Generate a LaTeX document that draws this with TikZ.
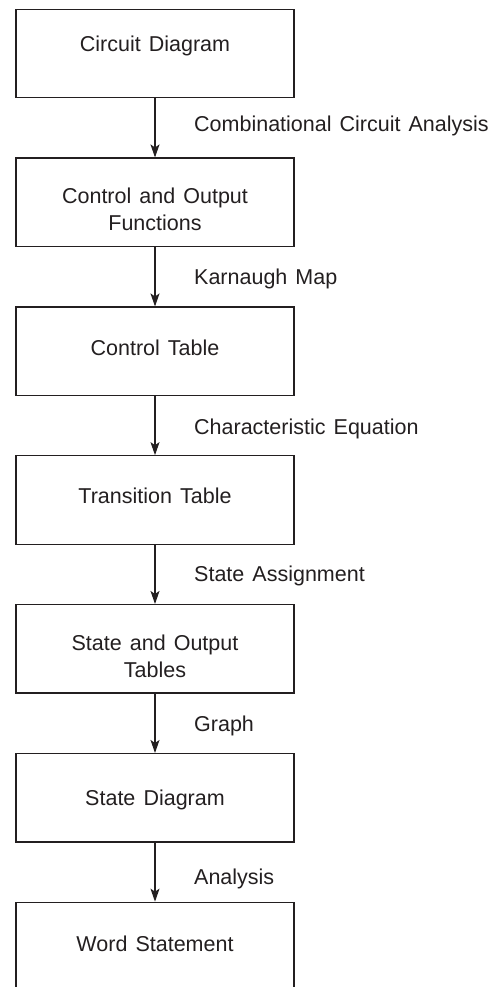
\documentclass[tikz,border=0pt]{standalone}
\usepackage{fontspec}
\setmainfont[WordSpace=1.35]{Liberation Sans}
\usetikzlibrary{arrows.meta}
\definecolor{ink}{HTML}{231F20}
\begin{document}
\begin{tikzpicture}[x=1pt,y=-1pt,
  stagebox/.style={draw=ink,line width=1.2pt,minimum width=278pt,minimum height=88.5pt,inner sep=0pt},
  boxtext/.style={text=ink,font=\fontsize{21.5}{26.8}\selectfont,align=center,inner sep=0pt},
  steptext/.style={text=ink,font=\fontsize{21.5}{26.8}\selectfont,anchor=west,inner sep=0pt,text height=15pt,text depth=0pt},
  flow/.style={draw=ink,line width=1.1pt,-{Stealth[length=13pt,width=9pt,inset=3pt]}}]
\useasboundingbox (0,0) rectangle (503,987);
\clip (0,0) rectangle (503,987);
% stage boxes
\node[stagebox] (b1) at (155,53.5) {};
\node[stagebox] (b2) at (155,202.3) {};
\node[stagebox] (b3) at (155,351.3) {};
\node[stagebox] (b4) at (155,500) {};
\node[stagebox] (b5) at (155,648.8) {};
\node[stagebox] (b6) at (155,797.8) {};
\node[stagebox] (b7) at (155,946.5) {};
% box captions
\node[boxtext,text height=15pt,text depth=0pt] (t1) at (155,44) {Circuit Diagram};
\node[boxtext] (t2) at (155,209) {Control and Output\\Functions};
\node[boxtext,text height=15pt,text depth=0pt] (t3) at (155,348) {Control Table};
\node[boxtext,text height=15pt,text depth=0pt] (t4) at (155,496) {Transition Table};
\node[boxtext] (t5) at (155,656.5) {State and Output\\Tables};
\node[boxtext,text height=15pt,text depth=0pt] (t6) at (155,798) {State Diagram};
\node[boxtext,text height=15pt,text depth=0pt] (t7) at (155,943.5) {Word Statement};
% connectors
\draw[flow] (b1.south) -- (b2.north);
\draw[flow] (b2.south) -- (b3.north);
\draw[flow] (b3.south) -- (b4.north);
\draw[flow] (b4.south) -- (b5.north);
\draw[flow] (b5.south) -- (b6.north);
\draw[flow] (b6.south) -- (b7.north);
% connector labels
\node[steptext] (l1) at (194,124) {Combinational Circuit Analysis};
\node[steptext] (l2) at (194,276.5) {Karnaugh Map};
\node[steptext] (l3) at (194,426.5) {Characteristic Equation};
\node[steptext] (l4) at (194,574) {State Assignment};
\node[steptext] (l5) at (194,724) {Graph};
\node[steptext] (l6) at (194,877) {Analysis};
\end{tikzpicture}
\end{document}
